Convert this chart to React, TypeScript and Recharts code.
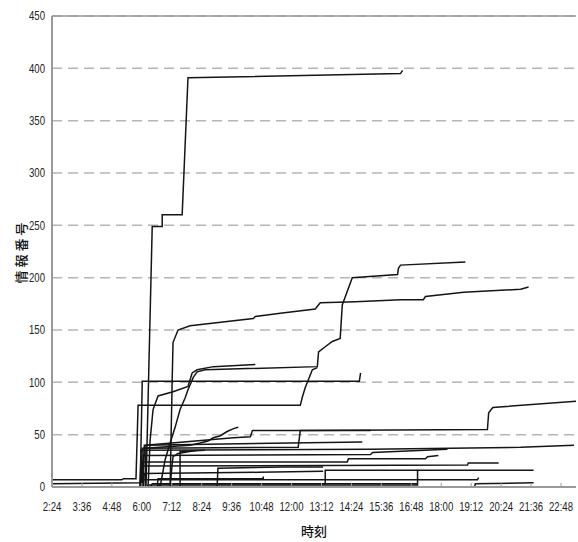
import React from 'react'
import { LineChart, Line, XAxis, YAxis, CartesianGrid, ReferenceLine } from 'recharts'

// time in minutes after midnight, value = information number
const timeTicks = [144, 216, 288, 360, 432, 504, 576, 648, 720, 792, 864, 936, 1008, 1080, 1152, 1224, 1296, 1368]
const valueTicks = [0, 50, 100, 150, 200, 250, 300, 350, 400, 450]

const s01 = [[370, 0], [385, 249], [409, 249], [409, 260], [457, 260], [471, 391], [982, 395], [987, 398]]
const s02 = [[428, 0], [433, 102], [435, 138], [447, 150], [476, 154], [628, 161], [633, 163], [693, 166], [777, 170], [789, 176], [874, 177], [982, 179], [1037, 179], [1042, 182], [1134, 186], [1271, 189], [1290, 191]]
const s03 = [[404, 0], [416, 26], [428, 42], [440, 57], [452, 74], [464, 85], [471, 93], [484, 105], [493, 110], [512, 112], [782, 115], [785, 129], [801, 134], [818, 139], [837, 142], [842, 174], [866, 200], [975, 203], [977, 209], [982, 212], [1138, 215]]
const s04 = [[375, 0], [380, 45], [387, 74], [399, 87], [435, 91], [471, 96], [481, 109], [493, 112], [532, 115], [633, 117]]
const s05 = [[356, 0], [361, 101], [883, 101], [886, 109]]
const s06 = [[144, 7], [312, 7], [316, 8], [346, 8], [351, 78], [741, 78], [746, 86], [753, 95], [760, 102], [770, 112], [782, 114]]
const s07 = [[361, 0], [366, 37], [476, 40], [500, 42], [519, 44], [532, 47], [549, 49], [565, 53], [582, 56], [592, 57]]
const s08 = [[358, 0], [361, 37], [736, 38], [741, 54], [1191, 55], [1194, 71], [1204, 76], [1404, 82]]
const s09 = [[368, 0], [370, 40], [580, 47], [621, 48], [626, 54], [910, 54]]
const s10 = [[363, 0], [366, 40], [890, 43]]
const s11 = [[356, 0], [358, 35], [910, 36], [1271, 38], [1399, 40]]
const s12 = [[361, 0], [363, 30], [910, 31], [915, 33], [1095, 36]]
const s13 = [[358, 0], [361, 24], [854, 24], [857, 27], [1042, 27], [1047, 29], [1073, 30]]
const s14 = [[356, 0], [358, 20], [1143, 21], [1145, 23], [1218, 23]]
const s15 = [[373, 0], [375, 2], [1023, 2], [1023, 16], [1302, 16]]
const s16 = [[380, 0], [385, 3], [801, 3], [801, 16], [1023, 16]]
const s17 = [[541, 0], [543, 18], [700, 19], [796, 19]]
const s18 = [[363, 0], [366, 13], [640, 14], [796, 15]]
const s19 = [[397, 0], [399, 8], [652, 8], [652, 10]]
const s20 = [[144, 3], [356, 4], [358, 7], [1167, 7], [1170, 9]]
const s21 = [[1000, 0], [1160, 0], [1162, 3], [1302, 4]]
const s22 = [[452, 0], [452, 34], [512, 35]]
const s23 = [[428, 0], [433, 22], [435, 29], [447, 32], [493, 35]]
const s24 = [[399, 0], [404, 3], [1023, 3]]

const series = [s01, s02, s03, s04, s05, s06, s07, s08, s09, s10, s11, s12, s13, s14, s15, s16, s17, s18, s19, s20, s21, s22, s23, s24]

const fmtTime = (m: number) => `${Math.floor(m / 60)}:${String(m % 60).padStart(2, '0')}`

const tickFontFamily = '"Liberation Sans", Arial, sans-serif'
const cjkFont = '"Noto Sans CJK JP", sans-serif'

// narrow looking tick labels, like the original
const TimeTick = (props: any) => {
  const { x, y, payload } = props
  return (
    <g transform={`translate(${x},${y}) scale(0.8,1)`}>
      <text x={0} y={0} dy="0.71em" textAnchor="middle" fontSize={12} fill="#222" fontFamily={tickFontFamily}>
        {fmtTime(payload.value)}
      </text>
    </g>
  )
}

const ValueTick = (props: any) => {
  const { x, y, payload } = props
  return (
    <g transform={`translate(${x},${y}) scale(0.8,1)`}>
      <text x={0} y={0} dy="0.355em" textAnchor="end" fontSize={12} fill="#222" fontFamily={tickFontFamily}>
        {payload.value}
      </text>
    </g>
  )
}

const YLabel = (props: any) => {
  const vb = props.viewBox
  const cy = vb.y + vb.height / 2
  return (
    <text x={20} y={cy} transform={`rotate(-90 20 ${cy})`} textAnchor="middle" dominantBaseline="central"
      fontSize={13} fill="#111" fontFamily={cjkFont} fontWeight={500} letterSpacing={3}>
      情報番号
    </text>
  )
}

const App = () => {
  return (
    <div style={{ position: 'absolute', left: 0, top: 0 }}>
      <LineChart width={578} height={542} margin={{ top: 16, right: 2, left: 0, bottom: 0 }}>
        <CartesianGrid vertical={false} stroke="#b5b5b5" strokeWidth={1.5} strokeDasharray="10 6" />
        <XAxis type="number" dataKey="t" domain={[144, 1404]} ticks={timeTicks} interval={0}
          allowDataOverflow height={55}
          tick={<TimeTick />} tickSize={-4} tickMargin={19}
          tickLine={{ stroke: '#999' }} axisLine={{ stroke: '#999', strokeWidth: 2 }}
          label={{ value: '時刻', position: 'insideBottom', offset: 6, fontSize: 13, fill: '#111', fontWeight: 500, fontFamily: cjkFont }} />
        <YAxis type="number" domain={[0, 450]} ticks={valueTicks} interval={0} width={52}
          tick={<ValueTick />} tickSize={0} tickMargin={7} tickLine={false}
          axisLine={{ stroke: '#999', strokeWidth: 2 }}
          label={<YLabel />} />
        <ReferenceLine y={450} stroke="#999" strokeWidth={1.5} />
        {series.map((s, i) => (
          <Line key={`s-${i}`} data={s.map(([t, v]) => ({ t, v }))} dataKey="v" type="linear"
            stroke="#151515" strokeWidth={1.5} dot={false} isAnimationActive={false} />
        ))}
      </LineChart>
    </div>
  )
}

export default App
